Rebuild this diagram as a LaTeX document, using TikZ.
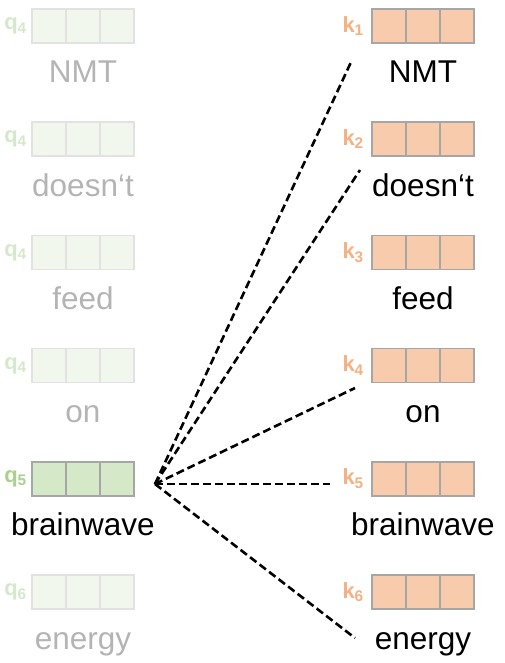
\documentclass[tikz,border=0pt]{standalone}
\usepackage{fontspec}
\setmainfont{Liberation Sans}
\usetikzlibrary{positioning}
\definecolor{keyfill}{HTML}{F8CBAD}
\definecolor{keytext}{HTML}{F4B183}
\definecolor{boxgray}{HTML}{A6A6A6}
\definecolor{qfill}{HTML}{D5E8C8}
\definecolor{qtext}{HTML}{A9D18E}
\definecolor{dimfill}{HTML}{F2F7EE}
\definecolor{dimdraw}{HTML}{E2E2E2}
\definecolor{dimq}{HTML}{D6E8CC}
\definecolor{dimword}{HTML}{B4B4B4}

\begin{document}
\begin{tikzpicture}[x=1pt,y=-1pt,
    cell/.style={line width=1.5pt,minimum width=34pt,minimum height=34pt,inner sep=0pt,outer sep=0pt},
    keycell/.style={cell,draw=boxgray,fill=keyfill},
    qcell/.style={cell,draw=boxgray,fill=qfill},
    dimcell/.style={cell,draw=dimdraw,fill=dimfill},
    veclabel/.style={font=\fontsize{22}{24}\selectfont\bfseries,inner sep=0pt},
    word/.style={font=\fontsize{31.5}{34}\selectfont,anchor=base,inner sep=0pt},
    attn/.style={line width=2.6pt,dash pattern=on 8pt off 4pt}]
    \useasboundingbox (0,0) rectangle (505,663);

    % keys on the right
    \foreach \w [count=\i] in {NMT,doesn‘t,feed,on,brainwave,energy} {
        \node[keycell] (k\i a) at (389,{26+113.2*(\i-1)}) {};
        \node[keycell,right=0pt of k\i a] (k\i b) {};
        \node[keycell,right=0pt of k\i b] (k\i c) {};
        \node[veclabel,text=keytext,left=8pt of k\i a] (kl\i) {k\textsubscript{\i}};
        \node[word] (kw\i) at (423,{83+113.2*(\i-1)}) {\w};
    }

    % queries on the left, only q5 is active
    \foreach \w/\q [count=\i] in {NMT/4,doesn‘t/4,feed/4,on/4,brainwave/5,energy/6} {
        \ifnum\i=5
            \tikzset{thiscell/.style={qcell},thislabel/.style={text=qtext},thisword/.style={text=black}}
        \else
            \tikzset{thiscell/.style={dimcell},thislabel/.style={text=dimq},thisword/.style={text=dimword}}
        \fi
        \node[thiscell] (q\i a) at (49,{26+113.2*(\i-1)}) {};
        \node[thiscell,right=0pt of q\i a] (q\i b) {};
        \node[thiscell,right=0pt of q\i b] (q\i c) {};
        \node[veclabel,thislabel,left=5pt of q\i a] (ql\i) {q\textsubscript{\q}};
        \node[word,thisword] (qw\i) at (83,{83+113.2*(\i-1)}) {\w};
    }

    \coordinate (src) at (155,484);
    \coordinate (e1) at (352,60);
    \coordinate (e2) at (360,170);
    \coordinate (e4) at (355,388);
    \coordinate (e5) at (330,484);
    \coordinate (e6) at (355,638);

    \foreach \e in {e1,e2,e4,e5,e6}
        \draw[attn] (src) -- (\e);
\end{tikzpicture}
\end{document}
